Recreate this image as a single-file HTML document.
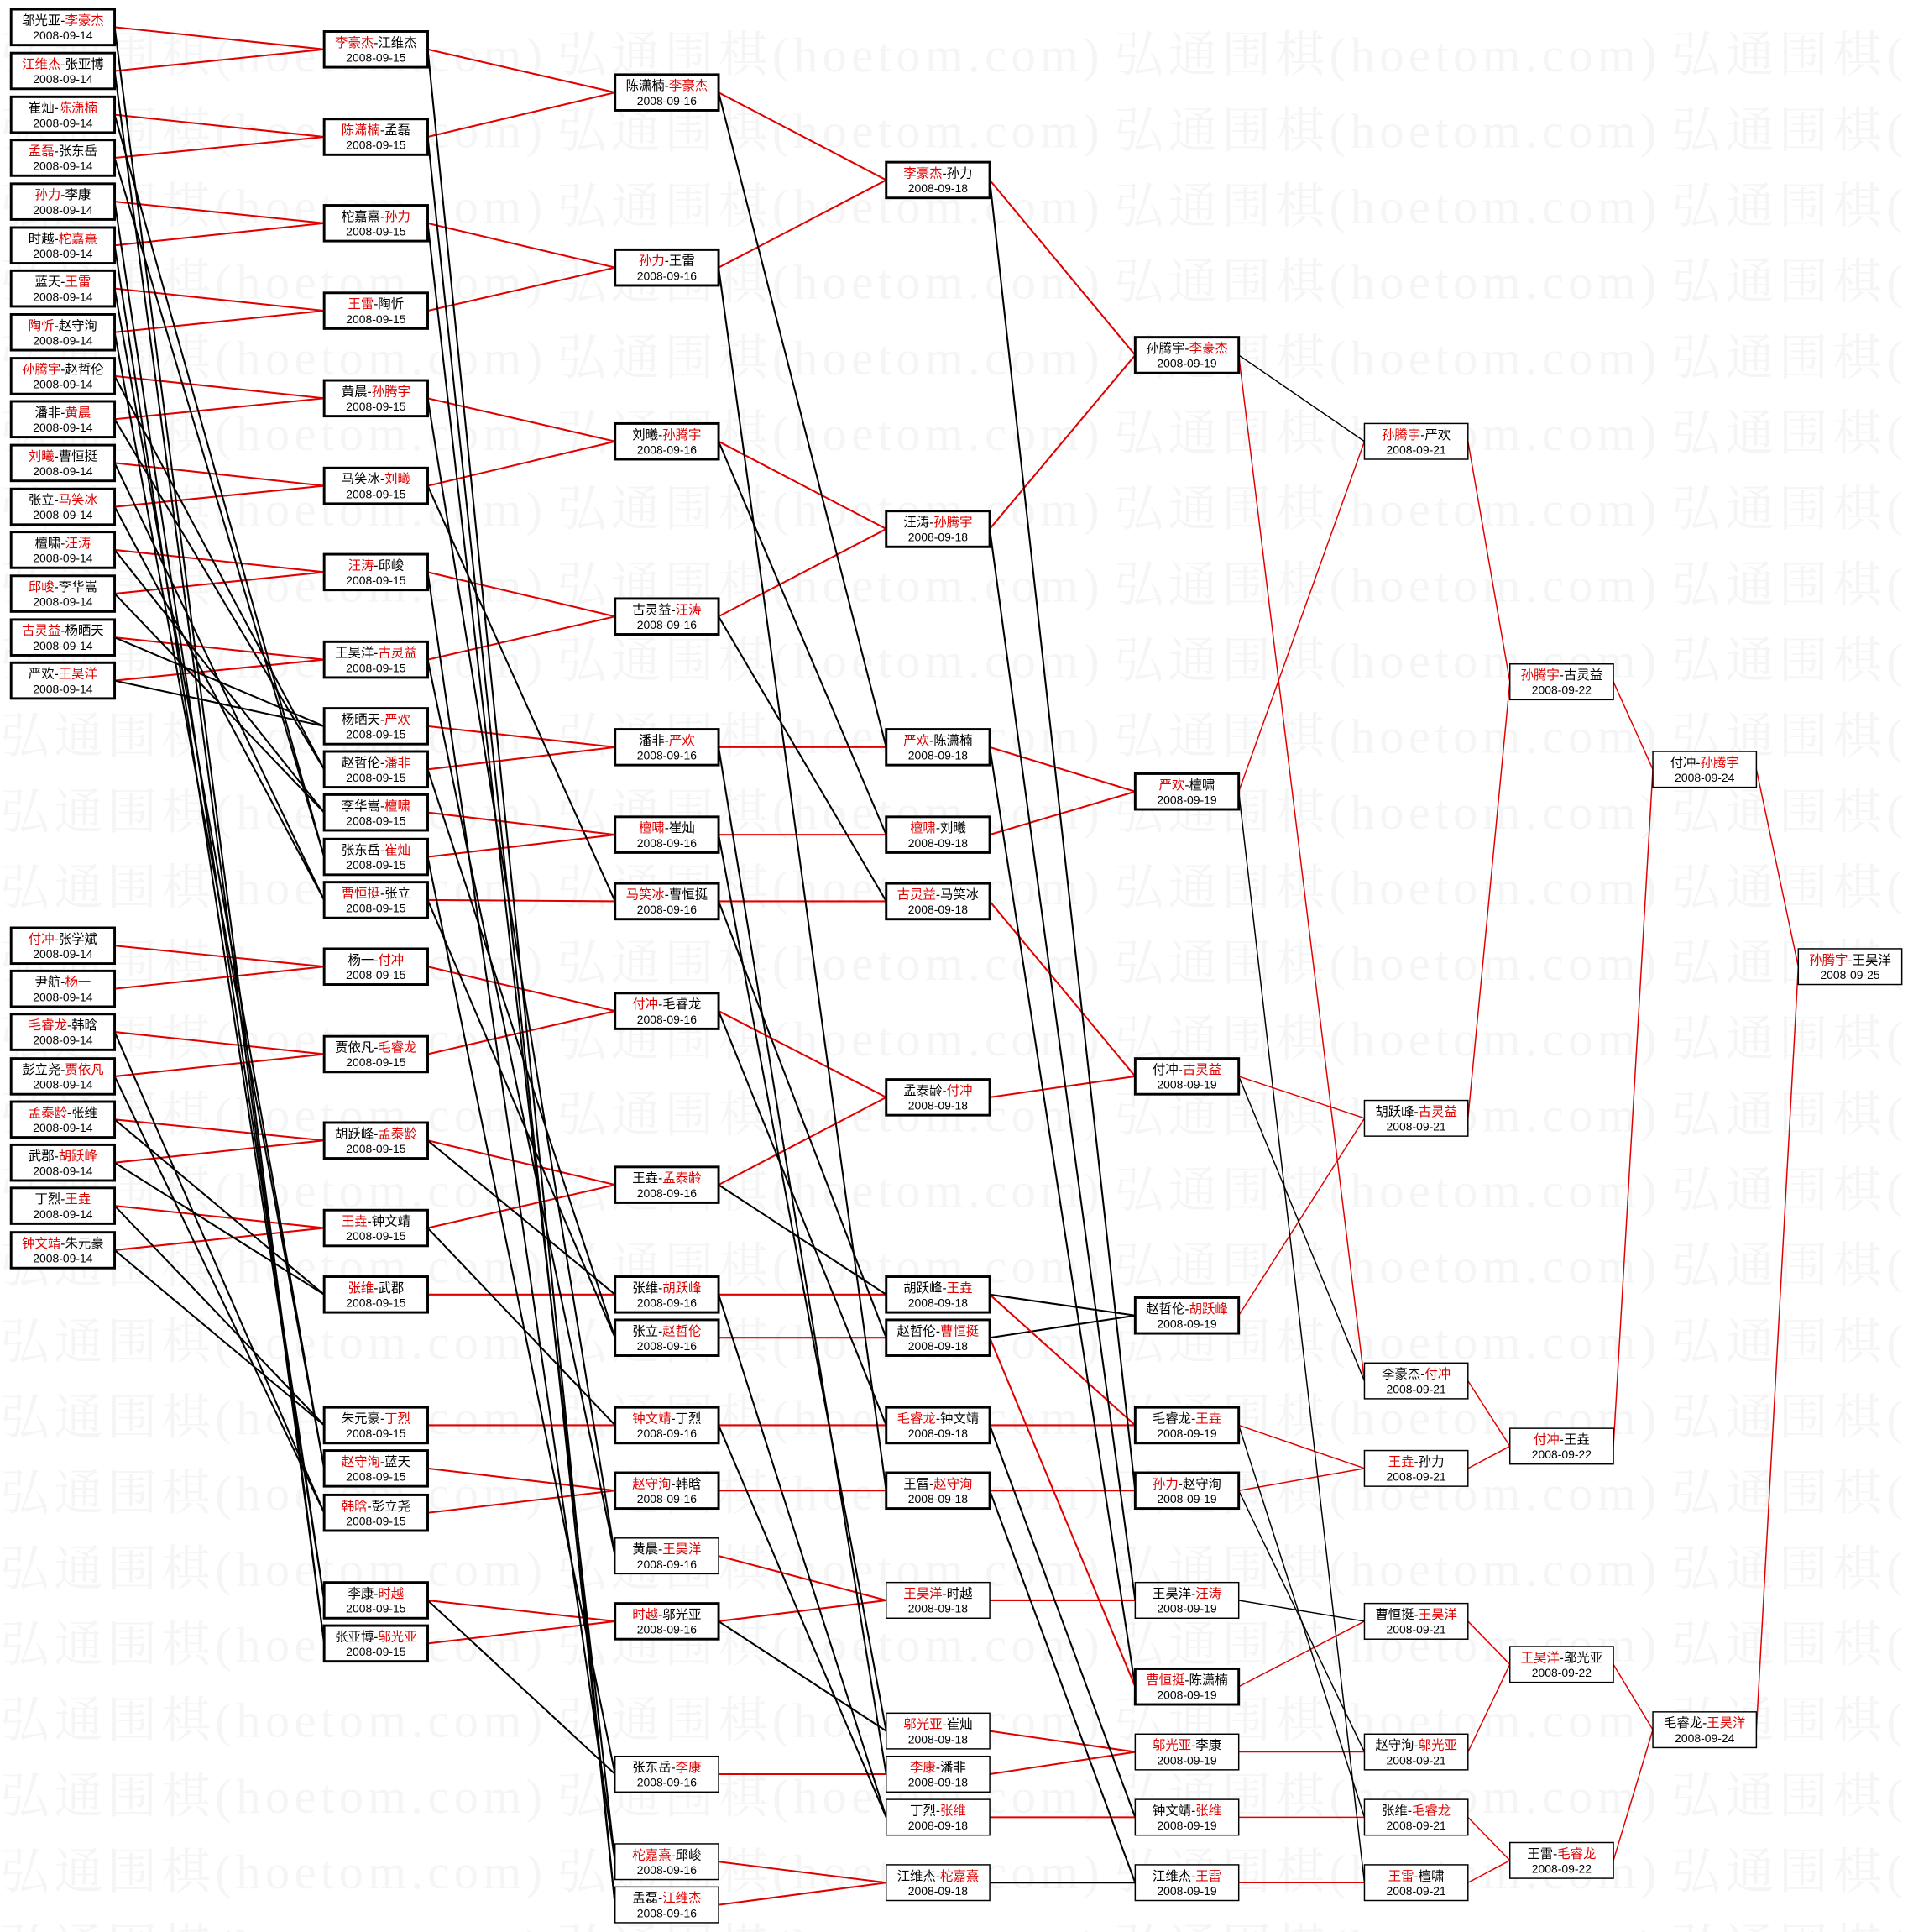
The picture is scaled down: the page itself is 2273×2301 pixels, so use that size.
<!DOCTYPE html>
<html><head><meta charset="utf-8"><style>
html,body{margin:0;padding:0;background:#fff;}
svg{display:block;}
</style></head><body>
<svg id="s" xmlns="http://www.w3.org/2000/svg" width="2273" height="2301" viewBox="0 0 1548 1567"></svg>
<script>
const cols=[
{x:9,items:[
["邬光亚","李豪杰",1,22],["江维杰","张亚博",0,57.5],["崔灿","陈潇楠",1,93],["孟磊","张东岳",0,128],
["孙力","李康",0,163.5],["时越","柁嘉熹",1,199],["蓝天","王雷",1,234],["陶忻","赵守洵",0,269.5],
["孙腾宇","赵哲伦",0,305],["潘非","黄晨",1,340],["刘曦","曹恒挺",0,375.5],["张立","马笑冰",1,411],
["檀啸","汪涛",1,446],["邱峻","李华嵩",0,481.5],["古灵益","杨晒天",0,517],["严欢","王昊洋",1,552],
["付冲","张学斌",0,767],["尹航","杨一",1,802],["毛睿龙","韩晗",0,837],["彭立尧","贾依凡",1,873],
["孟泰龄","张维",0,908],["武郡","胡跃峰",1,943],["丁烈","王垚",1,978],["钟文靖","朱元豪",0,1014]]},
{x:263,items:[
["李豪杰","江维杰",0,40],["陈潇楠","孟磊",0,111],["柁嘉熹","孙力",1,181],["王雷","陶忻",0,252],
["黄晨","孙腾宇",1,323],["马笑冰","刘曦",1,394],["汪涛","邱峻",0,464],["王昊洋","古灵益",1,535],
["杨晒天","严欢",1,589],["赵哲伦","潘非",1,624],["李华嵩","檀啸",1,659],["张东岳","崔灿",1,695],
["曹恒挺","张立",0,730],["杨一","付冲",1,784],["贾依凡","毛睿龙",1,855],["胡跃峰","孟泰龄",1,925],
["王垚","钟文靖",0,996],["张维","武郡",0,1050],["朱元豪","丁烈",1,1156],["赵守洵","蓝天",0,1191],
["韩晗","彭立尧",0,1227],["李康","时越",1,1298],["张亚博","邬光亚",1,1333]]},
{x:499,items:[
["陈潇楠","李豪杰",1,75],["孙力","王雷",0,217],["刘曦","孙腾宇",1,358],["古灵益","汪涛",1,500],
["潘非","严欢",1,606],["檀啸","崔灿",0,677],["马笑冰","曹恒挺",0,731],["付冲","毛睿龙",0,820],
["王垚","孟泰龄",1,961],["张维","胡跃峰",1,1050],["张立","赵哲伦",1,1085],["钟文靖","丁烈",0,1156],
["赵守洵","韩晗",0,1209],["黄晨","王昊洋",1,1262,1],["时越","邬光亚",0,1315],["张东岳","李康",1,1439,1],
["柁嘉熹","邱峻",0,1510,1],["孟磊","江维杰",1,1545,1]]},
{x:719,items:[
["李豪杰","孙力",0,146],["汪涛","孙腾宇",1,429],["严欢","陈潇楠",0,606],["檀啸","刘曦",0,677],
["古灵益","马笑冰",0,731],["孟泰龄","付冲",1,890],["胡跃峰","王垚",1,1050],["赵哲伦","曹恒挺",1,1085],
["毛睿龙","钟文靖",0,1156],["王雷","赵守洵",1,1209],["王昊洋","时越",0,1298,1],["邬光亚","崔灿",0,1404,1],
["李康","潘非",0,1439,1],["丁烈","张维",1,1474,1],["江维杰","柁嘉熹",1,1527,1]]},
{x:921,items:[
["孙腾宇","李豪杰",1,288],["严欢","檀啸",0,642],["付冲","古灵益",1,873],["赵哲伦","胡跃峰",1,1067],
["毛睿龙","王垚",1,1156],["孙力","赵守洵",0,1209],["王昊洋","汪涛",1,1298,1],["曹恒挺","陈潇楠",0,1368],
["邬光亚","李康",0,1421,1],["钟文靖","张维",1,1474,1],["江维杰","王雷",1,1527,1]]},
{x:1107,items:[
["孙腾宇","严欢",0,358,1],["胡跃峰","古灵益",1,907,1],["李豪杰","付冲",1,1120,1],["王垚","孙力",0,1191,1],
["曹恒挺","王昊洋",1,1315,1],["赵守洵","邬光亚",1,1421,1],["张维","毛睿龙",1,1474,1],["王雷","檀啸",0,1527,1]]},
{x:1225,items:[["孙腾宇","古灵益",0,553,1],["付冲","王垚",0,1173,1],["王昊洋","邬光亚",0,1350,1],["王雷","毛睿龙",1,1509,1]]},
{x:1341,items:[["付冲","孙腾宇",1,624,1],["毛睿龙","王昊洋",1,1403,1]]},
{x:1459,items:[["孙腾宇","王昊洋",0,784,1]]}
];
const dates=["2008-09-14","2008-09-15","2008-09-16","2008-09-18","2008-09-19","2008-09-21","2008-09-22","2008-09-24","2008-09-25"];
const W=84,H=29,RED="#e00000";
let s='';
for(let r=0;r<26;r++){const y=58+r*61.4;for(let c=0;c<4;c++){s+=`<text x="${c*452}" y="${y}" font-family="Liberation Serif,Noto Serif CJK SC,serif" font-size="40" fill="#f5f5f5" textLength="440">弘通围棋(hoetom.com)</text>`;}}
let lines='';
for(let k=1;k<cols.length;k++){
 for(const b of cols[k].items){
  for(const p of [b[0],b[1]]){
   let found=null;
   for(let j=k-1;j>=0&&!found;j--){for(const a of cols[j].items){if(a[0]===p||a[1]===p){found=[j,a];break;}}}
   if(!found)continue;
   const [j,a]=found;const win=(a[2]===0?a[0]:a[1])===p;
   const sw=k<=4?1.4:1;
   lines+=`<line x1="${cols[j].x+W}" y1="${a[3]}" x2="${cols[k].x}" y2="${b[3]}" stroke="${win?RED:'#000'}" stroke-width="${sw}"/>`;
  }
 }
}
s+=lines;
const ff='font-family="Liberation Sans,Noto Sans CJK SC,sans-serif"';
cols.forEach((c,k)=>{for(const b of c.items){
 const thin=b[4];const y=b[3]-H/2;
 s+=`<rect x="${c.x}" y="${y}" width="${W}" height="${H}" fill="#fff" stroke="#000" stroke-width="${thin?1:2}"/>`;
 const c0=b[2]===0?RED:'#000',c1=b[2]===1?RED:'#000';
 s+=`<text x="${c.x+W/2}" y="${b[3]-2}" text-anchor="middle" ${ff} font-size="10.5"><tspan fill="${c0}">${b[0]}</tspan><tspan fill="#000">-</tspan><tspan fill="${c1}">${b[1]}</tspan></text>`;
 s+=`<text x="${c.x+W/2}" y="${b[3]+10}" text-anchor="middle" ${ff} font-size="9.5" fill="#000">${dates[k]}</text>`;
}});
document.getElementById('s').innerHTML=s;
</script>
</body></html>
